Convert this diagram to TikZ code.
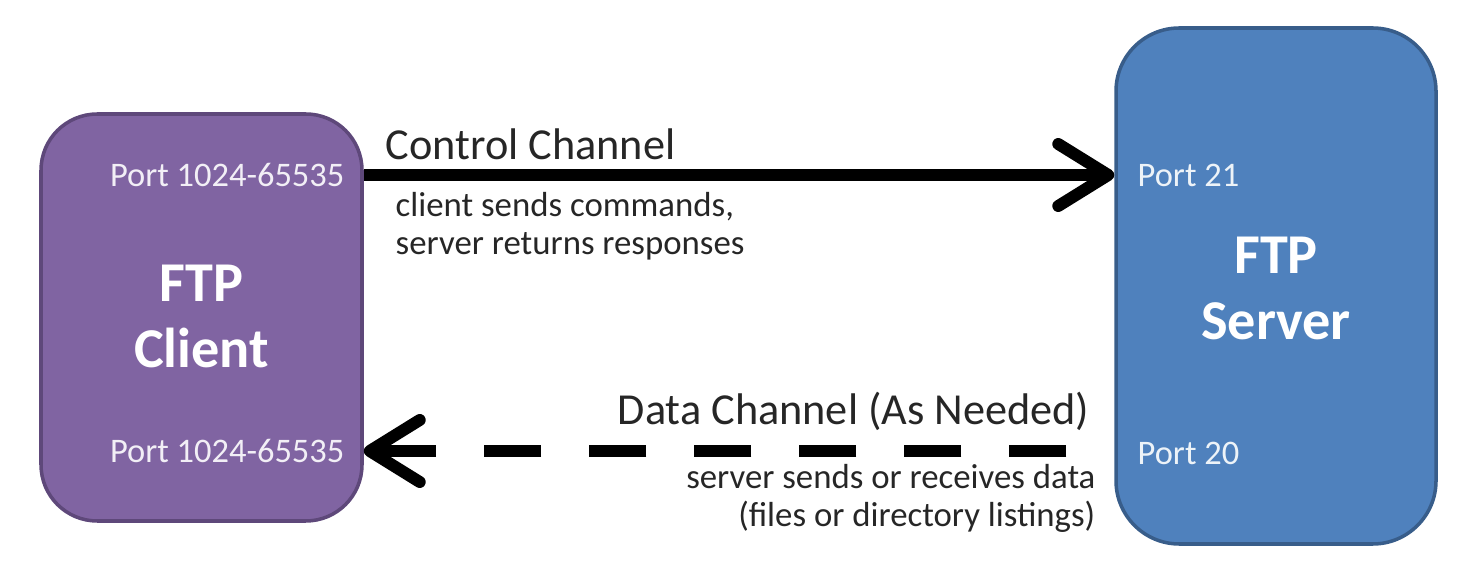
\documentclass[tikz,border=0pt]{standalone}
\usepackage{fontspec}
\setmainfont{Carlito}
\definecolor{clientpurple}{RGB}{128, 100, 162}
\definecolor{clientedge}{RGB}{94, 72, 122}
\definecolor{serverblue}{RGB}{79, 129, 189}
\definecolor{serveredge}{RGB}{56, 93, 138}
\definecolor{inktext}{RGB}{38, 38, 38}
\usepackage{tikz}
\usetikzlibrary{arrows.meta, positioning, calc}

\tikzset{
  hostbox/.style={rounded corners=16pt, line width=1pt, inner sep=0pt},
  hosttitle/.style={text=white, align=center, font=\bfseries\fontsize{16}{19}\selectfont},
  portlabel/.style={inner sep=0pt, font=\fontsize{9.8}{11}\selectfont},
  chanlabel/.style={inner sep=0pt, text=inktext, font=\fontsize{12.6}{14}\selectfont},
  notelabel/.style={inner sep=0pt, text=inktext, font=\fontsize{9.9}{10.8}\selectfont},
  chanline/.style={line width=3.4pt, black, -{Straight Barb[length=0.5cm, width=0.62cm, round]}}
}

\begin{document}
\begin{tikzpicture}
  \useasboundingbox (0,0) rectangle (14.78,-5.75);

  % the two hosts
  \node[hostbox, draw=clientedge, fill=clientpurple, minimum width=3.21cm, minimum height=4.07cm] (cli) at (2.015,-3.175) {};
  \node[hostbox, draw=serveredge, fill=serverblue, minimum width=3.20cm, minimum height=5.16cm, rounded corners=18pt] (srv) at (12.76,-2.86) {};

  \node[hosttitle] (clititle) at (2.015,-3.165) {FTP\\Client};
  \node[hosttitle] (srvtitle) at (12.76,-2.885) {FTP\\Server};

  % ports
  \node[portlabel, text=white!90!clientpurple, anchor=east] (cliporttop) at (3.45,-1.75) {Port 1024-65535};
  \node[portlabel, text=white!90!clientpurple, anchor=east] (cliportbot) at (3.45,-4.51) {Port 1024-65535};
  \node[portlabel, text=white!90!serverblue, anchor=west] (srvporttop) at (11.37,-1.75) {Port 21};
  \node[portlabel, text=white!90!serverblue, anchor=west] (srvportbot) at (11.37,-4.53) {Port 20};

  % control channel
  \draw[chanline] (cli.east |- cliporttop) -- (srv.west |- cliporttop);
  \node[chanlabel, anchor=base west] (ctllabel) at (3.85,-1.60) {Control Channel};
  \node[notelabel, anchor=north west, align=left] (ctlnote) at (3.95,-1.92) {client sends commands,\\server returns responses};

  % data channel
  \draw[chanline, dash pattern=on 0.57cm off 0.48cm, dash phase=0.57cm] (srv.west |- cliportbot) -- (cli.east |- cliportbot);
  \node[chanlabel, anchor=base east] (datalabel) at (10.90,-4.25) {Data Channel (As Needed)};
  \node[notelabel, anchor=north east, align=right] (datanote) at (10.96,-4.64) {server sends or receives data\\(files or directory listings)};
\end{tikzpicture}
\end{document}
